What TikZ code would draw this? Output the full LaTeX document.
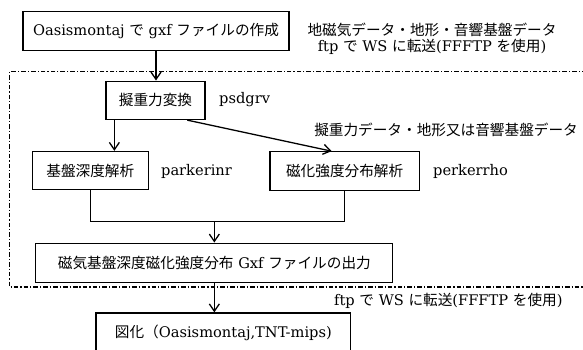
\documentclass[tikz,border=0pt]{standalone}
\usepackage{fontspec}
\setmainfont{DejaVu Serif}
\newfontfamily\jpfont{Noto Sans CJK JP}
\newcommand\ja[1]{{\jpfont #1}}
\usetikzlibrary{arrows.meta}
\tikzstyle{box}=[draw, line width=1.1pt, minimum height=1.15cm, inner sep=0pt]
\tikzstyle{wire}=[line width=1.1pt]
\tikzstyle{flow}=[line width=1.1pt, -{Straight Barb[length=2.2mm,width=3mm]}]
\tikzstyle{frame}=[line width=0.9pt, dash pattern=on 4pt off 1.7pt on 1pt off 1.7pt]

\begin{document}
\begin{tikzpicture}[font=\fontsize{12.5}{13.6}\selectfont]
\useasboundingbox (0,0) rectangle (17.49,10.47);
\node[box, minimum width=7.98cm] at (4.68,9.54) (Gxf) {Oasismontaj \ja{で} gxf \ja{ファイルの作成}};
\node[box, minimum width=2.97cm] at (4.665,7.46) (Psd) {\ja{擬重力変換}};
\node[box, minimum width=3.48cm] at (2.71,5.35) (Base) {\ja{基盤深度解析}};
\node[box, minimum width=4.48cm] at (10.34,5.34) (Mag) {\ja{磁化強度分布解析}};
\node[box, minimum width=10.71cm, minimum height=1.19cm] at (6.43,2.58) (Out) {\ja{磁気基盤深度磁化強度分布} Gxf \ja{ファイルの出力}};
\node[box, minimum width=7.64cm, minimum height=1.2cm] at (6.70,0.48) (Fig) {\ja{図化（}Oasismontaj,TNT-mips)};
\node[align=center] at (12.96,9.30) (Send1) {\ja{地磁気データ・地形・音響基盤データ}\\ftp \ja{で} WS \ja{に転送}(FFFTP \ja{を使用})};
\node[anchor=west] at (6.45,7.47) (PsdL) {psdgrv};
\node[anchor=east] at (17.46,6.57) (Data) {\ja{擬重力データ・地形又は音響基盤データ}};
\node[anchor=west] at (4.71,5.34) (BaseL) {parkerinr};
\node[anchor=west] at (12.87,5.34) (MagL) {perkerrho};
\node[anchor=west] at (9.90,1.44) (Send2) {ftp \ja{で} WS \ja{に転送}(FFFTP \ja{を使用})};
% WS part
\draw[frame] (17.6,8.32) -- (0.28,8.32) -- (0.28,1.86) -- (17.6,1.86);
\coordinate (P1) at ([xshift=0.27cm]Psd.south west);
\coordinate (P2) at ([xshift=-0.55cm]Psd.south east);
\coordinate (M1) at ([xshift=-0.39cm]Mag.north);
\coordinate (J) at (Out.north |- 0,3.82);
\draw[flow] (Gxf.south) -- (Gxf.south |- Psd.north);
\draw[flow] (P1) -- (P1 |- Base.north);
\draw[flow] (P2) -- (M1);
\draw[wire] (Base.south) |- (J) -| (Mag.south);
\draw[flow] (J) -- (Out.north);
\draw[flow] (Out.south) -- (Out.south |- Fig.north);
\end{tikzpicture}
\end{document}
